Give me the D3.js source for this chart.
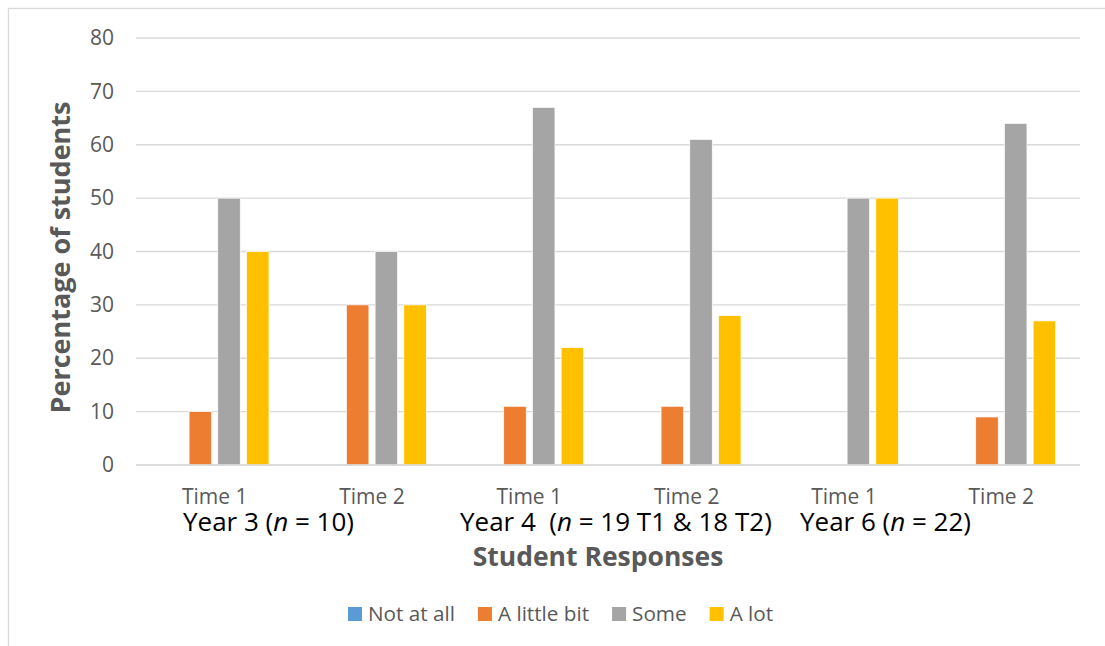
<!DOCTYPE html>
<html>
<head>
<meta charset="utf-8">
<script src="https://cdn.jsdelivr.net/npm/d3@7"></script>
<style>
  html, body { margin: 0; padding: 0; background: #fff; }
  svg { display: block; font-family: "Open Sans", "Noto Sans", sans-serif; }
</style>
</head>
<body>
<svg id="chart" width="1105" height="646"></svg>
<script>
// ---- data ----
const categories = ["Time 1", "Time 2", "Time 1", "Time 2", "Time 1", "Time 2"];
const seriesNames = ["Not at all", "A little bit", "Some", "A lot"];
const notAtAll   = [0, 0, 0, 0, 0, 0];
const aLittleBit = [10, 30, 11, 11, 0, 9];
const some       = [50, 40, 67, 61, 50, 64];
const aLot       = [40, 30, 22, 28, 50, 27];
const yTicks = [0, 10, 20, 30, 40, 50, 60, 70, 80];
const yearLabels = [
  { pre: "Year 3 (", post: " = 10)" },
  { pre: "Year 4  (", post: " = 19 T1 & 18 T2)" },
  { pre: "Year 6 (", post: " = 22)" }
];
const yTitle = "Percentage of students";
const xTitle = "Student Responses";

// ---- styles ----
const colors = ["#5B9BD5", "#ED7D31", "#A5A5A5", "#FFC000"];
const seriesValues = [notAtAll, aLittleBit, some, aLot];

const svg = d3.select("#chart");
const plotL = 136, plotR = 1080, plotT = 38, plotB = 465;

// chart border
svg.append("rect").attr("x", 8.5).attr("y", 8.5).attr("width", 1110).attr("height", 660)
  .attr("fill", "none").attr("stroke", "#d9d9d9").attr("stroke-width", 1.3);

const x0 = d3.scaleBand().domain(d3.range(categories.length)).range([plotL, plotR]).padding(0);
const x1 = d3.scaleBand().domain(d3.range(seriesNames.length)).range([0, x0.bandwidth()])
  .paddingInner(0.216).paddingOuter(0.848);
const y = d3.scaleLinear().domain([0, 80]).range([plotB, plotT]);

// gridlines
svg.append("g").selectAll("line").data(yTicks).join("line")
  .attr("x1", plotL).attr("x2", plotR)
  .attr("y1", d => y(d)).attr("y2", d => y(d))
  .attr("stroke", "#d9d9d9").attr("stroke-width", 1.3);

// y axis labels
const yAxis = d3.axisLeft(y).tickValues(yTicks).tickSize(0).tickPadding(22);
const gy = svg.append("g").attr("transform", `translate(${plotL},0)`).call(yAxis);
gy.select(".domain").remove();
gy.selectAll("text").attr("font-size", 21).attr("fill", "#595959")
  .attr("font-family", "'Open Sans', sans-serif");

// bars
const groups = svg.append("g").selectAll("g").data(categories).join("g")
  .attr("transform", (d, i) => `translate(${x0(i)},0)`);
groups.selectAll("rect").data((d, i) => seriesValues.map((s, k) => ({ k, v: s[i] })))
  .join("rect")
  .attr("x", d => x1(d.k)).attr("width", x1.bandwidth())
  .attr("y", d => y(d.v)).attr("height", d => y(0) - y(d.v))
  .attr("fill", d => colors[d.k])
  .attr("stroke", "#fff").attr("stroke-width", 0.7);

// baseline
svg.append("line").attr("x1", plotL).attr("x2", plotR).attr("y1", y(0)).attr("y2", y(0))
  .attr("stroke", "#d9d9d9").attr("stroke-width", 1.5);

// x axis category labels
const xAxis = d3.axisBottom(x0).tickFormat(i => categories[i]).tickSize(0).tickPadding(24);
const gx = svg.append("g").attr("transform", `translate(0,${plotB})`).call(xAxis);
gx.select(".domain").remove();
gx.selectAll("text").attr("font-size", 21).attr("fill", "#595959")
  .attr("font-family", "'Open Sans', sans-serif");

// year labels
const yearX = [183, 460, 800];
yearLabels.forEach((yl, i) => {
  const t = svg.append("text").attr("x", yearX[i]).attr("y", 531)
    .attr("font-size", 26).attr("fill", "#000").style("white-space", "pre");
  t.append("tspan").text(yl.pre);
  t.append("tspan").attr("font-style", "italic").text("n");
  t.append("tspan").text(yl.post);
});

// axis titles
svg.append("text").attr("x", 598).attr("y", 566).attr("text-anchor", "middle")
  .attr("font-size", 26.5).attr("font-weight", "bold").attr("fill", "#595959").text(xTitle);
svg.append("text").attr("transform", `translate(70,${(100 + 415) / 2}) rotate(-90)`)
  .attr("text-anchor", "middle").attr("font-size", 27).attr("font-weight", "bold")
  .attr("fill", "#595959").text(yTitle);

// legend
const legend = svg.append("g");
let lx = 348;
seriesNames.forEach((name, k) => {
  legend.append("rect").attr("x", lx).attr("y", 607).attr("width", 14).attr("height", 14)
    .attr("fill", colors[k]);
  const t = legend.append("text").attr("x", lx + 20).attr("y", 621)
    .attr("font-size", 20.7).attr("fill", "#595959").text(name);
  lx += 20 + t.node().getComputedTextLength() + 23;
});
</script>
</body>
</html>
